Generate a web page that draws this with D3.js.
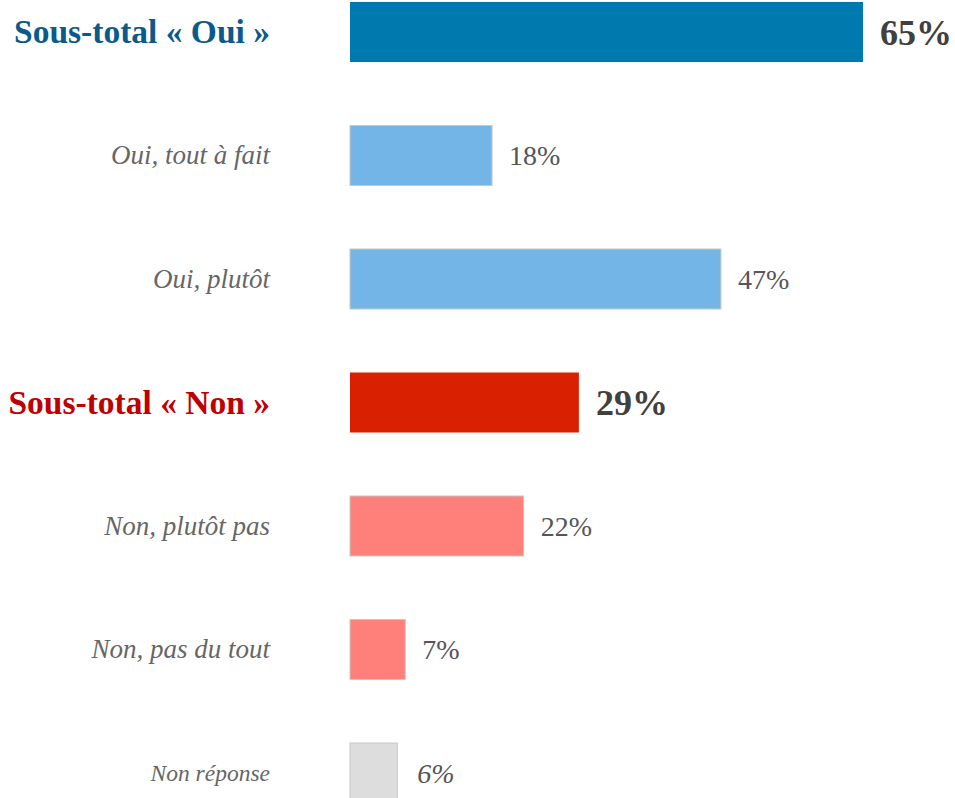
<!DOCTYPE html>
<html>
<head>
<meta charset="utf-8">
<script src="https://cdn.jsdelivr.net/npm/d3@7"></script>
<style>
  html, body { margin: 0; padding: 0; background: #fff; overflow: hidden; }
  svg text { font-family: "Palatino Linotype", "Book Antiqua", Palatino, "Liberation Serif", serif; }
</style>
</head>
<body>
<script>
// chart data
const categories = ["Sous-total « Oui »", "Oui, tout à fait", "Oui, plutôt", "Sous-total « Non »", "Non, plutôt pas", "Non, pas du tout", "Non réponse"];
const values = [65, 18, 47, 29, 22, 7, 6];
const kinds = ["total", "sub", "sub", "total", "sub", "sub", "none"];
const barColors = ["#0079AF", "#74B5E8", "#74B5E8", "#D92000", "#FF7F7B", "#FF7F7B", "#DDDDDD"];
const labelColors = ["#0A5A8C", "#666666", "#666666", "#C00000", "#666666", "#666666", "#666666"];

const svg = d3.select("body").append("svg")
  .attr("width", 955)
  .attr("height", 798);

const x = d3.scaleLinear().domain([0, 65]).range([350, 863]);
const y = d3.scalePoint().domain(categories).range([32, 773]);
const barH = 60;

const rows = categories.map((c, i) => ({ cat: c, v: values[i], kind: kinds[i], fill: barColors[i], lc: labelColors[i] }));

// font size of the category label, by row kind
function catSize(k) {
  if (k == "total") return "33.5px";
  if (k == "none") return "23.5px";
  return "27px";
}

// bars
svg.selectAll(".bar")
  .data(rows)
  .enter()
  .append("rect")
    .attr("x", x(0))
    .attr("y", d => y(d.cat) - barH / 2)
    .attr("width", d => x(d.v) - x(0))
    .attr("height", barH)
    .attr("fill", d => d.fill)
    .attr("stroke", d => d.kind == "total" ? "none" : "#c8c8c8")
    .attr("stroke-width", 1);

// category labels
svg.selectAll(".cat")
  .data(rows)
  .enter()
  .append("text")
    .attr("x", 270)
    .attr("y", d => y(d.cat))
    .attr("dy", "0.33em")
    .attr("text-anchor", "end")
    .attr("fill", d => d.lc)
    .style("font-size", d => catSize(d.kind))
    .style("font-weight", d => d.kind == "total" ? "bold" : "normal")
    .style("font-style", d => d.kind == "total" ? "normal" : "italic")
    .text(d => d.cat);

// value labels
svg.selectAll(".val")
  .data(rows)
  .enter()
  .append("text")
    .attr("x", d => x(d.v) + (d.kind == "none" ? 20 : 17))
    .attr("y", d => y(d.cat))
    .attr("dy", "0.35em")
    .attr("fill", d => d.kind == "total" ? "#404040" : "#555555")
    .style("font-size", d => d.kind == "total" ? "36px" : "28px")
    .style("font-weight", d => d.kind == "total" ? "bold" : "normal")
    .style("font-style", d => d.kind == "none" ? "italic" : "normal")
    .text(d => d.v + "%");
</script>
</body>
</html>
